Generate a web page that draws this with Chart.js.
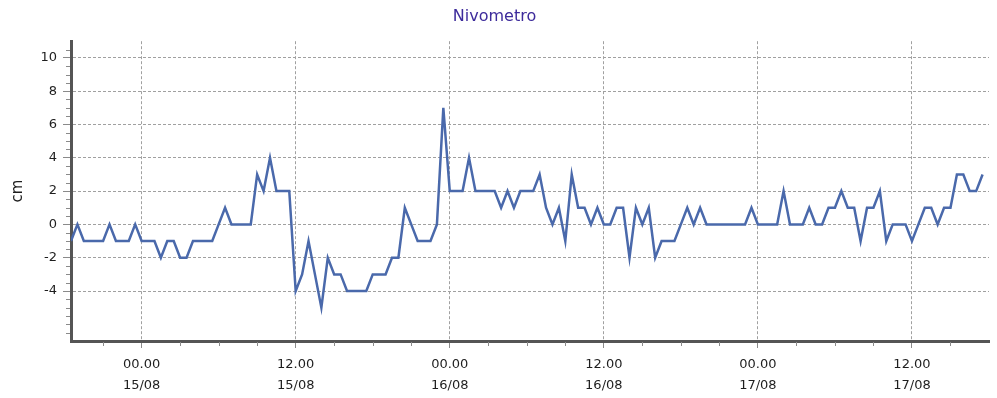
<!DOCTYPE html>
<html>
<head>
<meta charset="utf-8">
<title>Nivometro</title>
<script src="https://cdn.jsdelivr.net/npm/chart.js@4.4.1/dist/chart.umd.min.js"></script>
<style>
    html, body { margin: 0; padding: 0; background: #fff; }
    canvas { display: block; }
</style>
</head>
<body>
<canvas id="nivo-chart" width="997" height="398"></canvas>
<script>
// Snow gauge readings (cm), one every half hour from 14/08 18.30
const readings = [
    -1, 0, -1, -1, -1, -1, 0, -1, -1, -1,
    0, -1, -1, -1, -2, -1, -1, -2, -2, -1,
    -1, -1, -1, 0, 1, 0, 0, 0, 0, 3,
    2, 4, 2, 2, 2, -4, -3, -1, -3, -5,
    -2, -3, -3, -4, -4, -4, -4, -3, -3, -3,
    -2, -2, 1, 0, -1, -1, -1, 0, 7, 2,
    2, 2, 4, 2, 2, 2, 2, 1, 2, 1,
    2, 2, 2, 3, 1, 0, 1, -1, 3, 1,
    1, 0, 1, 0, 0, 1, 1, -2, 1, 0,
    1, -2, -1, -1, -1, 0, 1, 0, 1, 0,
    0, 0, 0, 0, 0, 0, 1, 0, 0, 0,
    0, 2, 0, 0, 0, 1, 0, 0, 1, 1,
    2, 1, 1, -1, 1, 1, 2, -1, 0, 0,
    0, -1, 0, 1, 1, 0, 1, 1, 3, 3,
    2, 2, 3
];

// Time axis: hours counted from 00.00 15/08
const firstHour = -5.5;
const stepHours = 0.5;
const lastHour = 66;
const tickHours = [0, 12, 24, 36, 48, 60];
const tickTimes = ['00.00', '12.00', '00.00', '12.00', '00.00', '12.00'];
const tickDates = ['15/08', '15/08', '16/08', '16/08', '17/08', '17/08'];

// Value axis
const yMin = -7;
const yMax = 11;
const yTicks = [-4, -2, 0, 2, 4, 6, 8, 10];

const fontFamily = 'Verdana, "DejaVu Sans", sans-serif';
const labelColor = '#1e1e1e';
const gridColor = '#a0a0a0';
const axisColor = '#555555';

// Small unlabelled ticks along both axes
const minorTicks = {
    id: 'minorTicks',
    afterDraw(chart) {
        const ctx = chart.ctx;
        const xs = chart.scales.x;
        const ys = chart.scales.y;
        const area = chart.chartArea;

        ctx.save();
        ctx.strokeStyle = '#8a8a8a';
        ctx.lineWidth = 1;
        ctx.beginPath();
        for (let h = -3; h < lastHour; h += 3) {
            if (tickHours.includes(h)) continue;
            const px = Math.round(xs.getPixelForValue(h)) + 0.5;
            ctx.moveTo(px, area.bottom + 1);
            ctx.lineTo(px, area.bottom + 5);
        }
        for (let v = -6.5; v < yMax; v += 0.5) {
            if (yTicks.includes(v)) continue;
            const py = Math.round(ys.getPixelForValue(v)) + 0.5;
            ctx.moveTo(area.left - 5, py);
            ctx.lineTo(area.left - 1, py);
        }
        ctx.stroke();
        ctx.restore();
    }
};

const points = readings.map((v, i) => ({ x: firstHour + i * stepHours, y: v }));

new Chart(document.getElementById('nivo-chart'), {
    type: 'line',
    data: {
        datasets: [{
            label: 'cm',
            data: points,
            borderColor: '#4a69ab',
            borderWidth: 2.5,
            pointRadius: 0,
            tension: 0,
            fill: false
        }]
    },
    options: {
        responsive: false,
        animation: false,
        devicePixelRatio: 1,
        layout: {
            padding: { left: 0, right: 8, top: 0, bottom: 0 }
        },
        plugins: {
            legend: { display: false },
            tooltip: { enabled: false },
            title: {
                display: true,
                text: 'Nivometro',
                color: '#3d2b9b',
                font: { family: fontFamily, size: 16, weight: 'normal', lineHeight: 1.2 },
                padding: { top: 7, bottom: 15 }
            }
        },
        scales: {
            x: {
                type: 'linear',
                min: firstHour,
                max: lastHour,
                afterBuildTicks: (scale) => {
                    scale.ticks = tickHours.map(h => ({ value: h }));
                },
                afterFit: (scale) => {
                    scale.height = 57;
                },
                ticks: {
                    autoSkip: false,
                    maxRotation: 0,
                    padding: 6,
                    color: labelColor,
                    font: { family: fontFamily, size: 13, lineHeight: 1.6 },
                    callback: (value) => {
                        const i = tickHours.indexOf(value);
                        return i < 0 ? '' : [tickTimes[i], tickDates[i]];
                    }
                },
                grid: {
                    color: gridColor,
                    lineWidth: 1,
                    tickLength: 7,
                    tickColor: '#8a8a8a'
                },
                border: {
                    display: true,
                    color: axisColor,
                    width: 3,
                    dash: [3, 2]
                }
            },
            y: {
                min: yMin,
                max: yMax,
                afterBuildTicks: (scale) => {
                    scale.ticks = yTicks.map(v => ({ value: v }));
                },
                afterFit: (scale) => {
                    scale.width = 71;
                },
                title: {
                    display: true,
                    text: 'cm',
                    color: labelColor,
                    font: { family: fontFamily, size: 15, lineHeight: 1.2 },
                    padding: { top: 9, bottom: 0 }
                },
                ticks: {
                    padding: 6,
                    color: labelColor,
                    font: { family: fontFamily, size: 13 }
                },
                grid: {
                    color: gridColor,
                    lineWidth: 1,
                    tickLength: 8,
                    tickColor: '#8a8a8a'
                },
                border: {
                    display: true,
                    color: axisColor,
                    width: 3,
                    dash: [3, 2]
                }
            }
        }
    },
    plugins: [minorTicks]
});
</script>
</body>
</html>
